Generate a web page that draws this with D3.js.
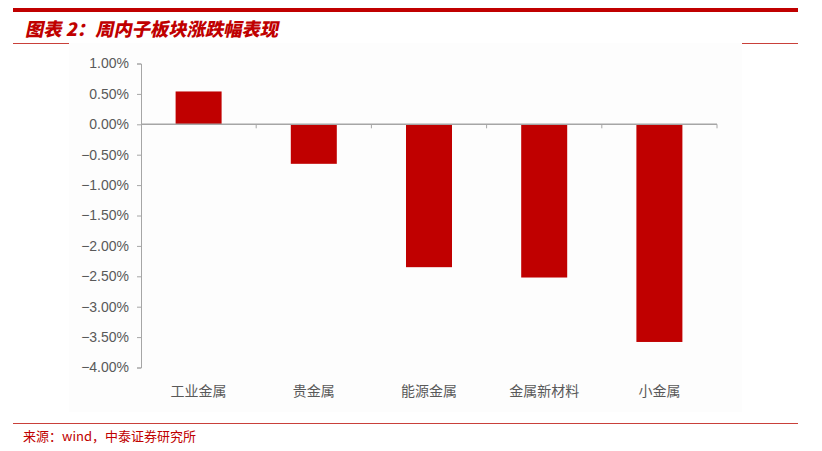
<!DOCTYPE html>
<html>
<head>
<meta charset="utf-8">
<script src="https://cdn.jsdelivr.net/npm/d3@7"></script>
<style>
  html, body { margin: 0; padding: 0; background: #ffffff; }
  svg { display: block; }
</style>
</head>
<body>
<svg id="chart" width="822" height="451"></svg>
<script>
// Weekly sub-sector returns (%)
const categories = ["工业金属", "贵金属", "能源金属", "金属新材料", "小金属"];
const changes = [0.54, -0.65, -2.35, -2.52, -3.58];
const yTicks = [1.0, 0.5, 0.0, -0.5, -1.0, -1.5, -2.0, -2.5, -3.0, -3.5, -4.0];
const titleText = "图表 2：周内子板块涨跌幅表现";
const sourceText = "来源：wind，中泰证券研究所";

const svg = d3.select("#chart");
const red = "#c00000";
const cjk = "'Noto Sans CJK SC', 'Noto Sans', sans-serif";
const latin = "'Liberation Sans', Arial, sans-serif";

// Header band, title and short rules
svg.append("rect").attr("x", 13).attr("y", 8).attr("width", 785).attr("height", 4).attr("fill", red);
svg.append("text")
  .attr("x", 25).attr("y", 36)
  .attr("fill", red)
  .attr("font-family", cjk)
  .attr("font-size", 18.3)
  .attr("font-weight", 900)
  .attr("transform", "translate(7.6,0) skewX(-12)")
  .text(titleText);
svg.append("line").attr("x1", 13).attr("x2", 69).attr("y1", 43.5).attr("y2", 43.5)
  .attr("stroke", "#c9403a").attr("stroke-width", 1);
svg.append("line").attr("x1", 742).attr("x2", 798).attr("y1", 43.5).attr("y2", 43.5)
  .attr("stroke", "#c9403a").attr("stroke-width", 1);

// Plot panel
svg.append("rect").attr("x", 69).attr("y", 43).attr("width", 673).attr("height", 369).attr("fill", "#fdfdfd");

const xBand = d3.scaleBand().domain(categories).range([141, 717]);
const y = d3.scaleLinear().domain([-4, 1]).range([367.5, 63.5]);

// Bars
svg.append("g").selectAll("rect")
  .data(categories.map((c, i) => ({ c, v: changes[i] })))
  .join("rect")
  .attr("x", d => xBand(d.c) + xBand.bandwidth() / 2 - 23)
  .attr("width", 46)
  .attr("y", d => y(Math.max(0, d.v)))
  .attr("height", d => Math.abs(y(d.v) - y(0)))
  .attr("fill", red);

const axisColor = "#a6a6a6";
const labelColor = "#595959";

// Y axis
const yAxis = svg.append("g")
  .attr("transform", "translate(141,0)")
  .call(d3.axisLeft(y).tickValues(yTicks).tickSize(4).tickPadding(8)
    .tickFormat(d => d3.format(".2f")(d) + "%"));
yAxis.select(".domain").attr("stroke", axisColor);
yAxis.selectAll(".tick line").attr("stroke", axisColor);
yAxis.selectAll(".tick text")
  .attr("fill", labelColor)
  .attr("font-family", latin)
  .attr("font-size", 14);

// Zero baseline with category-boundary ticks
const boundaries = categories.map(c => xBand(c)).concat([xBand.range()[1]]);
const base = svg.append("g");
base.append("line")
  .attr("x1", 141).attr("x2", 717)
  .attr("y1", y(0)).attr("y2", y(0))
  .attr("stroke", axisColor).attr("stroke-width", 1.5);
base.selectAll("line.b")
  .data(boundaries.slice(1))
  .join("line").attr("class", "b")
  .attr("x1", d => d).attr("x2", d => d)
  .attr("y1", y(0)).attr("y2", y(0) + 4)
  .attr("stroke", axisColor);

// Category labels
svg.append("g").selectAll("text")
  .data(categories)
  .join("text")
  .attr("x", d => xBand(d) + xBand.bandwidth() / 2)
  .attr("y", 396)
  .attr("text-anchor", "middle")
  .attr("fill", labelColor)
  .attr("font-family", cjk)
  .attr("font-size", 14)
  .text(d => d);

// Footer rule and source
svg.append("line").attr("x1", 13).attr("x2", 798).attr("y1", 423.5).attr("y2", 423.5)
  .attr("stroke", "#c9403a").attr("stroke-width", 1);
svg.append("text")
  .attr("x", 23).attr("y", 441)
  .attr("fill", red)
  .attr("font-family", cjk)
  .attr("font-size", 13)
  .text(sourceText);
</script>
</body>
</html>
